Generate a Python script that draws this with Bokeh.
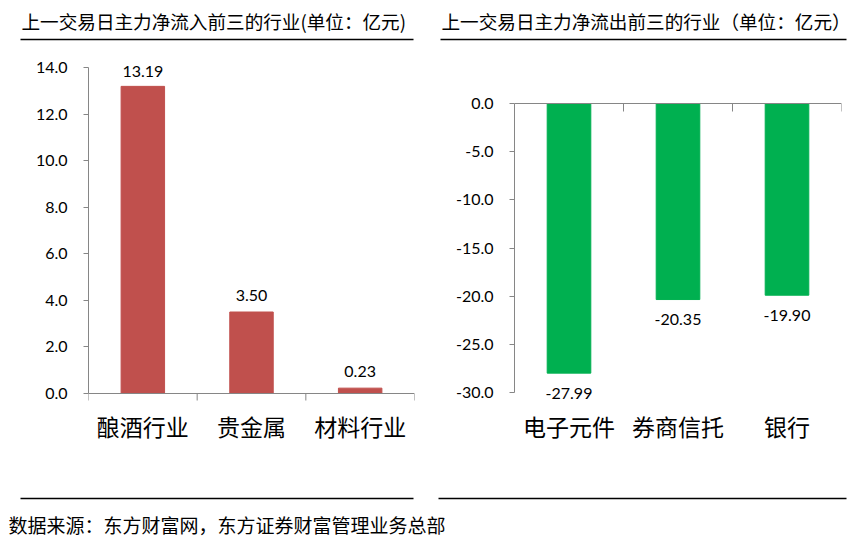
import math
from bokeh.plotting import figure
from bokeh.layouts import column, row
from bokeh.models import (Range1d, FixedTicker, LinearAxis, LabelSet, ColumnDataSource,
                          PrintfTickFormatter, Span)
from bokeh.core.properties import value
from bokeh.embed import file_html
from bokeh.resources import INLINE

# ---------------- data ----------------
in_title = "上一交易日主力净流入前三的行业(单位：亿元)"
out_title = "上一交易日主力净流出前三的行业（单位：亿元）"
source_text = "数据来源：东方财富网，东方证券财富管理业务总部"

in_categories = ["酿酒行业", "贵金属", "材料行业"]
in_values = [13.19, 3.50, 0.23]
in_ticks = [0.0, 2.0, 4.0, 6.0, 8.0, 10.0, 12.0, 14.0]

out_categories = ["电子元件", "券商信托", "银行"]
out_values = [-27.99, -20.35, -19.90]
out_ticks = [0.0, -5.0, -10.0, -15.0, -20.0, -25.0, -30.0]

# ---------------- style / layout (screen px) ----------------
RED = "#C0504D"
GREEN = "#00B050"
GRAY = "#868686"
CJK_NAME = "Noto Sans CJK SC"
NUM_NAME = "Lato"
CJK = value(CJK_NAME)
NUM = value(NUM_NAME)

in_label_dy = [15, 17, 17]
out_label_dy = [-20, -20, -20]

ROW_TOP = 45          # page y where chart row starts
ROW_H = 435
FRAME_TOP = 50        # page y of the chart frames
FRAME_BOT = 405
L_TOP_PX, L_ZERO_PX = 67, 393    # page y of 14.0 and 0.0 (left)
R_ZERO_PX, R_MIN_PX = 103, 392   # page y of 0.0 and -30.0 (right)


def blank_fig(w, h):
    p = figure(width=w, height=h, x_range=Range1d(0, w), y_range=Range1d(h, 0),
               output_backend="svg", toolbar_location=None, min_border=0,
               x_axis_location=None, y_axis_location=None)
    p.grid.visible = False
    p.outline_line_color = None
    p.background_fill_color = None
    p.border_fill_color = "white"
    return p


def title_fig(w, h, text, tx, rx0, rx1):
    p = blank_fig(w, h)
    p.text(x=[tx], y=[20], text=[text], text_font=CJK, text_font_size="18.6px",
           text_baseline="middle", text_align="left", text_color="#000000")
    p.line(x=[rx0, rx1], y=[39, 39], line_color="#000000", line_width=1.3)
    return p


def cat_axis(categories):
    centers = [i + 0.5 for i in range(len(categories))]
    return LinearAxis(ticker=FixedTicker(ticks=centers),
                      major_label_overrides={c: lab for c, lab in zip(centers, categories)},
                      major_label_standoff=3,
                      major_label_text_font=CJK_NAME, major_label_text_font_size="23px",
                      major_label_text_color="#000000",
                      axis_line_color=None, major_tick_line_color=None,
                      minor_tick_line_color=None, major_tick_in=0, major_tick_out=0)


def y_axis(ticks):
    return LinearAxis(ticker=FixedTicker(ticks=ticks),
                      formatter=PrintfTickFormatter(format="%.1f"),
                      bounds=(min(ticks), max(ticks)),
                      axis_line_color=GRAY, major_tick_line_color=GRAY,
                      major_tick_in=0, major_tick_out=5,
                      minor_tick_line_color=None,
                      major_label_standoff=16,
                      major_label_text_font=NUM_NAME, major_label_text_font_size="16px",
                      major_label_text_color="#000000")


def chart(width, left_b, right_b, ymin, ymax, y0_px, y1_px):
    # y0_px: page y of ymin, y1_px: page y of ymax
    k = (y0_px - y1_px) / (ymax - ymin)
    start = ymin - (FRAME_BOT - y0_px) / k
    end = ymax + (y1_px - FRAME_TOP) / k
    p = figure(width=width, height=ROW_H, x_range=Range1d(0, 3), y_range=Range1d(start, end),
               output_backend="svg", toolbar_location=None,
               min_border_left=left_b, min_border_right=right_b,
               min_border_top=FRAME_TOP - ROW_TOP,
               min_border_bottom=ROW_TOP + ROW_H - FRAME_BOT,
               x_axis_location=None, y_axis_location=None)
    p.grid.visible = False
    p.outline_line_color = None
    return p


# ---------------- left chart ----------------
n = len(in_categories)
left = chart(430, 88, 16, 0.0, max(in_ticks), L_ZERO_PX, L_TOP_PX)
left.x_range.end = n
xl = [i + 0.5 for i in range(n)]
left.vbar(x=xl, top=in_values, width=0.4, color=RED)
left.add_layout(y_axis(in_ticks), "left")
left.add_layout(Span(location=0, dimension="width", line_color=GRAY, line_width=1))
left.ray(x=list(range(n + 1)), y=[0] * (n + 1), length=7, length_units="screen",
         angle=-math.pi / 2, line_color=GRAY, line_width=1)
left.add_layout(cat_axis(in_categories), "below")
src_l = ColumnDataSource(dict(x=xl, y=in_values, t=["%.2f" % v for v in in_values], dy=in_label_dy))
left.add_layout(LabelSet(x="x", y="y", text="t", y_offset="dy", source=src_l,
                         text_align="center", text_baseline="middle",
                         text_font=NUM, text_font_size="16px", text_color="#000000"))

# ---------------- right chart ----------------
m = len(out_categories)
right = chart(424, 84, 13, min(out_ticks), 0.0, R_MIN_PX, R_ZERO_PX)
right.x_range.end = m
xr = [i + 0.5 for i in range(m)]
right.vbar(x=xr, top=0, bottom=out_values, width=0.4, color=GREEN)
right.add_layout(y_axis(out_ticks), "left")
right.add_layout(Span(location=0, dimension="width", line_color=GRAY, line_width=1))
right.ray(x=list(range(m + 1)), y=[0] * (m + 1), length=8, length_units="screen",
          angle=-math.pi / 2, line_color=GRAY, line_width=1)
right.add_layout(cat_axis(out_categories), "below")
src_r = ColumnDataSource(dict(x=xr, y=out_values, t=["%.2f" % v for v in out_values], dy=out_label_dy))
right.add_layout(LabelSet(x="x", y="y", text="t", y_offset="dy", source=src_r,
                          text_align="center", text_baseline="middle",
                          text_font=NUM, text_font_size="16px", text_color="#000000"))

# ---------------- titles & footer ----------------
tl = title_fig(430, ROW_TOP, in_title, 21, 20, 413)
tr = title_fig(424, ROW_TOP, out_title, 11, 10, 416)

foot = blank_fig(854, 541 - ROW_TOP - ROW_H)
foot.line(x=[20, 413], y=[18, 18], line_color="#000000", line_width=1.3)
foot.line(x=[438, 846], y=[18, 18], line_color="#000000", line_width=1.3)
foot.text(x=[8], y=[44], text=[source_text], text_font=CJK, text_font_size="19px",
          text_baseline="middle", text_align="left", text_color="#000000")

layout = column(row(tl, tr, spacing=0), row(left, right, spacing=0), foot, spacing=0)

open("out.html", "w").write(file_html(layout, INLINE))
